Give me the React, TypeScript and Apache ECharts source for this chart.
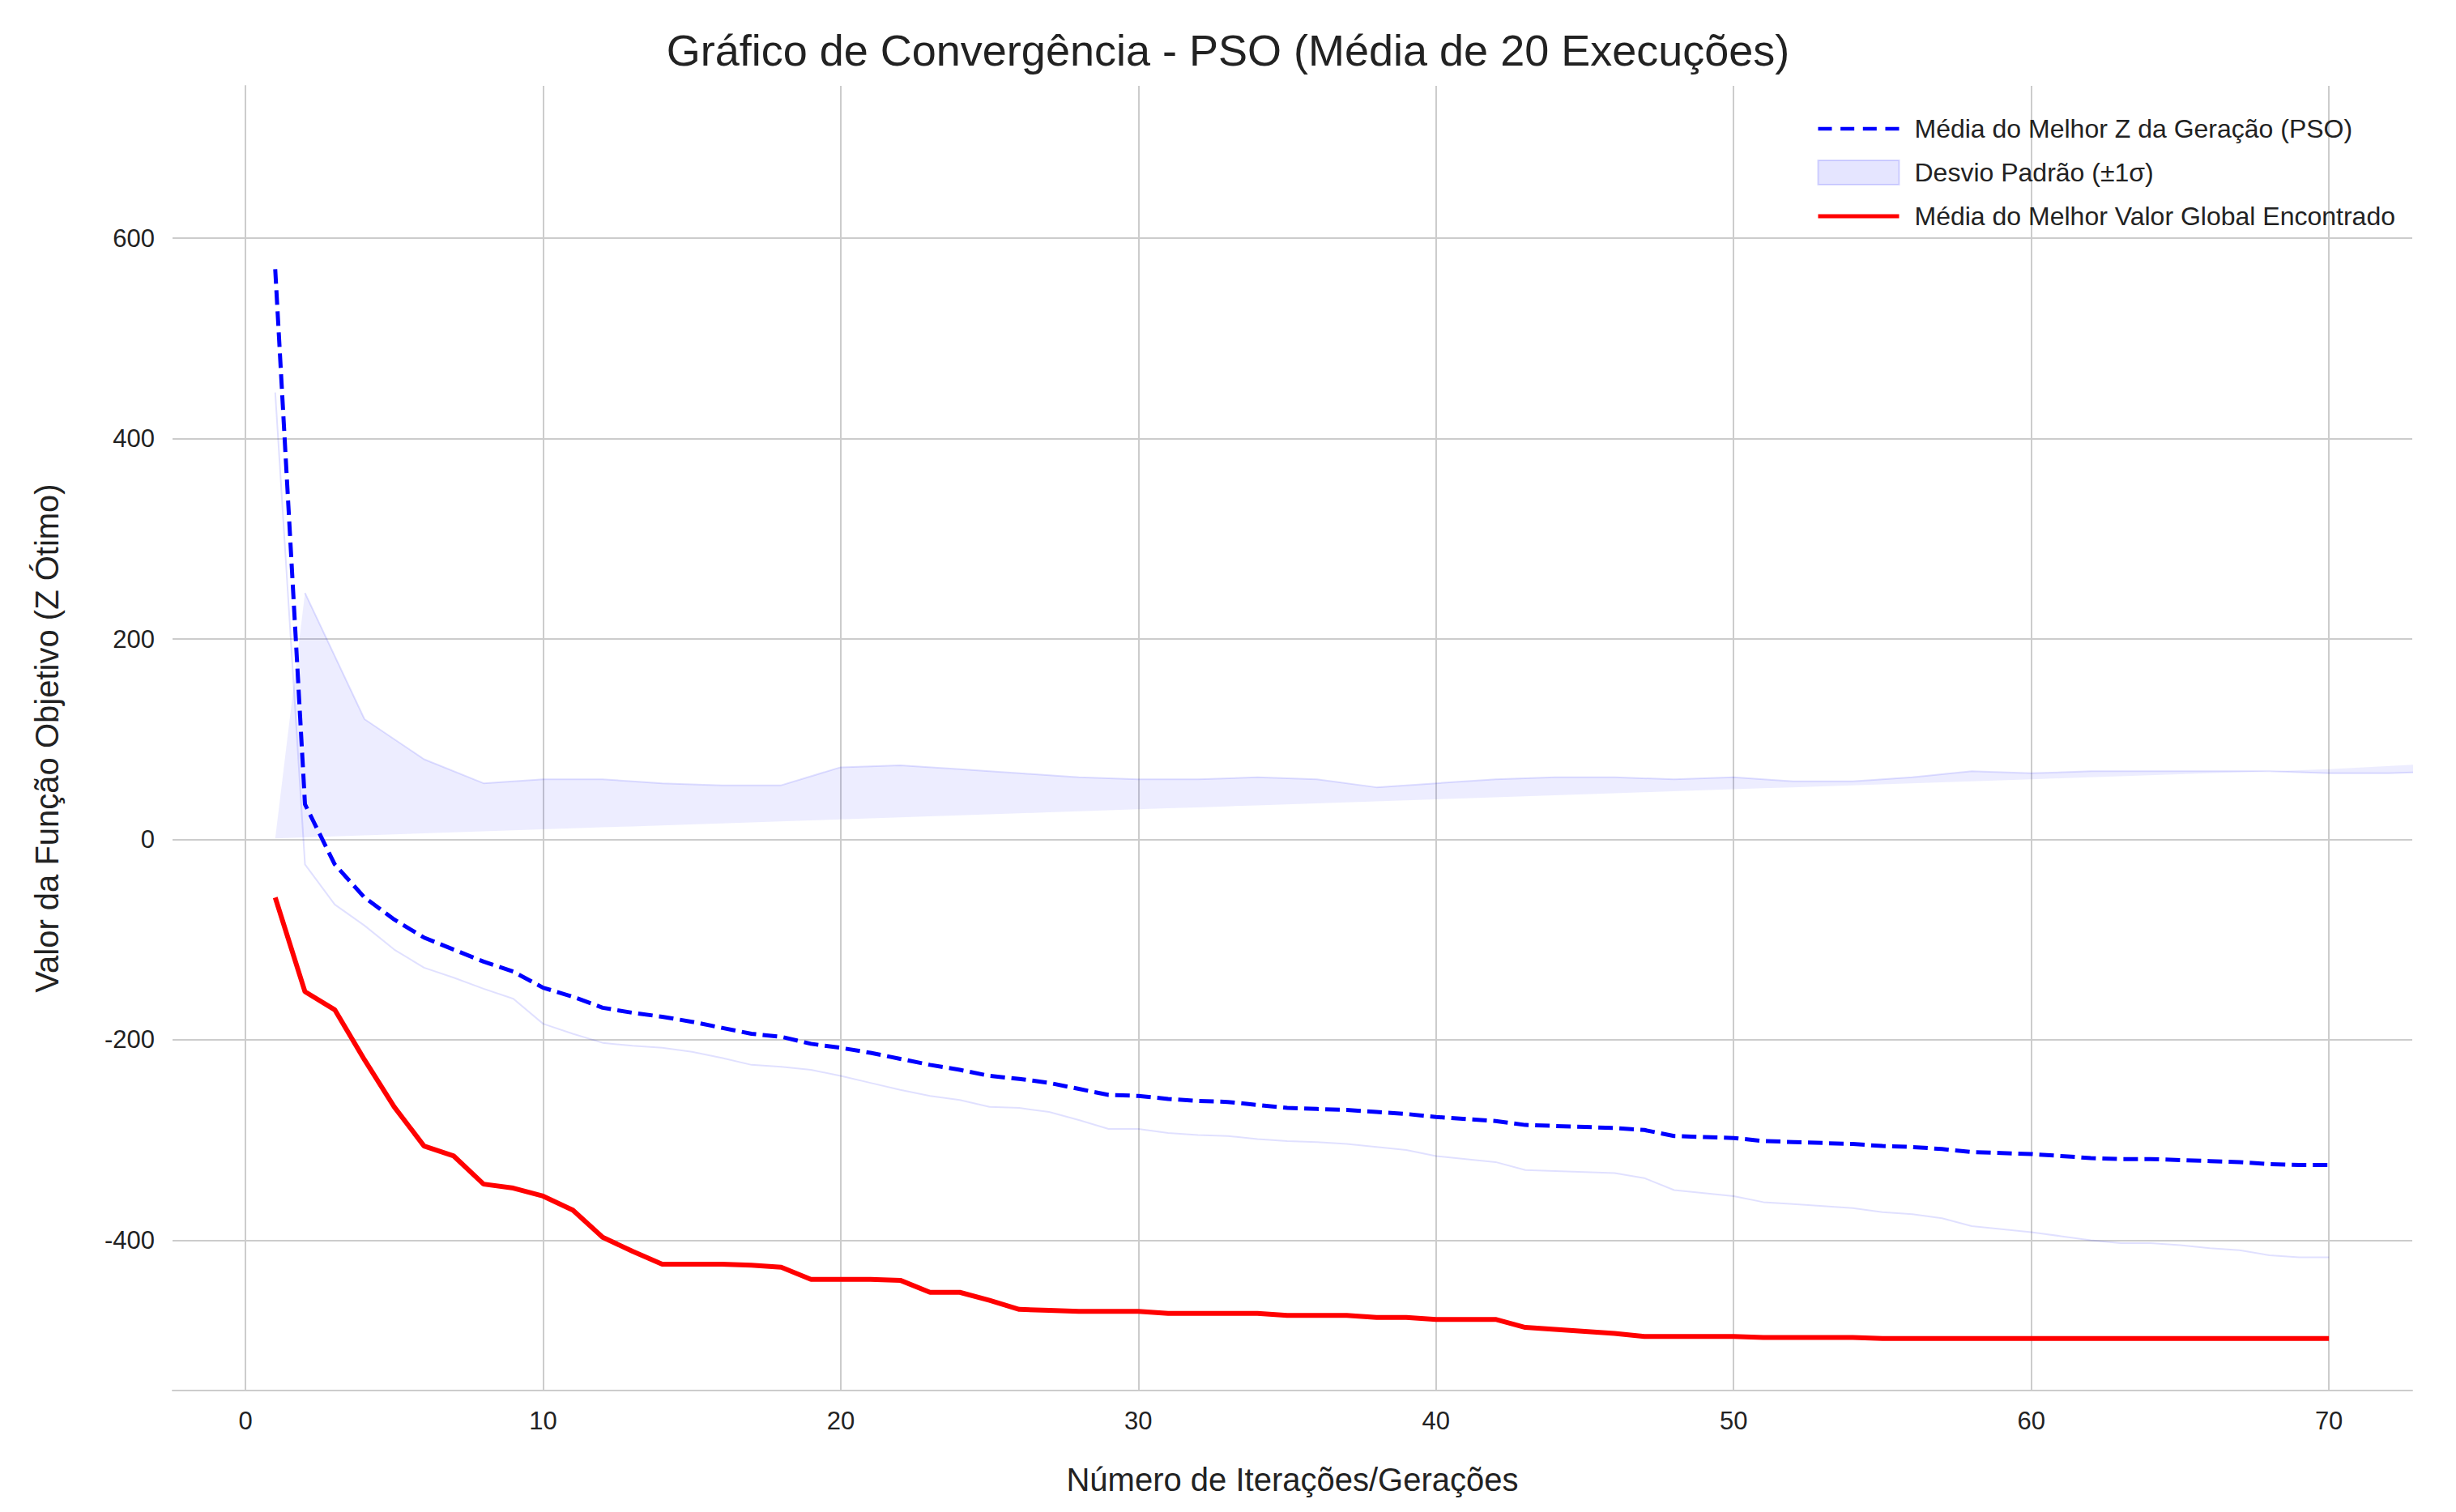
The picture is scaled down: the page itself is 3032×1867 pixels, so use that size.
import React, { useEffect, useRef } from 'react';
import * as echarts from 'echarts';

const iterations = Array.from({ length: 70 }, (_, i) => i + 1);

const meanGen = [
  569, 35, -25, -58, -80, -98, -110, -122, -132, -148,
  -157, -168, -173, -177, -182, -188, -194, -197, -204, -208,
  -213, -219, -225, -230, -236, -239, -243, -249, -255, -256,
  -259, -261, -262, -265, -268, -269, -270, -272, -274, -277,
  -279, -281, -285, -286, -287, -288, -290, -296, -297, -298,
  -301, -302, -303, -304, -306, -307, -309, -312, -313, -314,
  -316, -318, -319, -319, -320, -321, -322, -324, -325, -325,
];

const stdGen = [
  123, 60, 40, 28, 30, 30, 28, 27, 27, 36,
  37, 35, 33, 31, 30, 30, 31, 30, 26, 28,
  30, 31, 31, 30, 31, 29, 29, 31, 34, 33,
  34, 34, 34, 34, 33, 33, 34, 35, 36, 39,
  40, 41, 45, 45, 45, 45, 48, 54, 56, 58,
  61, 62, 63, 64, 66, 67, 69, 74, 76, 78,
  80, 82, 84, 84, 85, 87, 88, 91, 92, 92,
];

const bestGlobal = [
  -58, -152, -170, -220, -267, -306, -316, -344, -348, -356,
  -370, -397, -411, -424, -424, -424, -425, -427, -439, -439,
  -439, -440, -452, -452, -460, -469, -470, -471, -471, -471,
  -473, -473, -473, -473, -475, -475, -475, -477, -477, -479,
  -479, -479, -487, -489, -491, -493, -496, -496, -496, -496,
  -497, -497, -497, -497, -498, -498, -498, -498, -498, -498,
  -498, -498, -498, -498, -498, -498, -498, -498, -498, -498,
];

const xTicks = [0, 10, 20, 30, 40, 50, 60, 70];
const yTicks = [-400, -200, 0, 200, 400, 600];

const FONT = 'Liberation Sans, Arial, sans-serif';

const App: React.FC = () => {
  const chartRef = useRef<HTMLDivElement>(null);

  useEffect(() => {
    if (!chartRef.current) return;
    const chart = echarts.init(chartRef.current, null, { renderer: 'svg' });

    const lower = iterations.map((x, i) => [x, meanGen[i] - stdGen[i]]);
    const width = iterations.map((x, i) => [x, 2 * stdGen[i]]);

    const grid = { color: '#cccccc', width: 2 };

    const option = {
      animation: false,
      title: {
        text: 'Gráfico de Convergência - PSO (Média de 20 Execuções)',
        left: 'center',
        top: 22,
        textStyle: { fontFamily: FONT, fontSize: 54, fontWeight: 'normal', color: '#222' },
      },
      legend: {
        top: 130,
        right: 62,
        orient: 'vertical',
        itemGap: 22,
        itemWidth: 100,
        itemHeight: 30,
        textStyle: { fontFamily: FONT, fontSize: 32, color: '#222', padding: [0, 0, 0, 14] },
        data: [
          { name: 'Média do Melhor Z da Geração (PSO)', icon: 'path://M0,13h16v4h-16zM26,13h16v4h-16zM52,13h16v4h-16zM78,13h16v4h-16z', itemStyle: { color: '#0000ff' } },
          { name: 'Desvio Padrão (±1σ)', icon: 'rect', itemStyle: { color: 'rgba(0,0,255,0.1)', borderColor: 'rgba(0,0,255,0.15)', borderWidth: 2 } },
          { name: 'Média do Melhor Valor Global Encontrado', icon: 'path://M0,13h100v5h-100z', itemStyle: { color: '#ff0000' } },
        ],
      },
      grid: { left: 205, right: 46, top: 98, bottom: 142, containLabel: false },
      xAxis: {
        type: 'value',
        min: -2.45,
        max: 72.8,
        name: 'Número de Iterações/Gerações',
        nameLocation: 'middle',
        nameGap: 90,
        nameTextStyle: { fontFamily: FONT, fontSize: 40, color: '#222' },
        axisLine: { show: true, onZero: false, lineStyle: grid },
        axisTick: { show: false, customValues: xTicks },
        axisLabel: { fontFamily: FONT, fontSize: 31, color: '#222', margin: 22, customValues: xTicks },
        splitLine: { show: true, lineStyle: grid },
      },
      yAxis: {
        type: 'value',
        min: -550,
        max: 752,
        name: 'Valor da Função Objetivo (Z Ótimo)',
        nameLocation: 'middle',
        nameGap: 135,
        nameTextStyle: { fontFamily: FONT, fontSize: 40, color: '#222' },
        axisLine: { show: true, lineStyle: grid },
        axisTick: { show: false, customValues: yTicks },
        axisLabel: { fontFamily: FONT, fontSize: 31, color: '#222', margin: 22, customValues: yTicks },
        splitLine: { show: true, lineStyle: grid },
      },
      series: [
        {
          name: 'lower',
          type: 'line',
          data: lower,
          stack: 'band',
          stackStrategy: 'all',
          symbol: 'none',
          lineStyle: { color: 'rgba(0,0,255,0.12)', width: 2 },
          silent: true,
        },
        {
          name: 'Desvio Padrão (±1σ)',
          type: 'line',
          data: width,
          stack: 'band',
          stackStrategy: 'all',
          symbol: 'none',
          lineStyle: { color: 'rgba(0,0,255,0.12)', width: 2 },
          areaStyle: { color: 'rgba(0,0,255,0.1)' },
          itemStyle: { color: 'rgba(0,0,255,0.1)' },
        },
        {
          name: 'Média do Melhor Z da Geração (PSO)',
          type: 'line',
          data: iterations.map((x, i) => [x, meanGen[i]]),
          symbol: 'none',
          lineStyle: { color: '#0000ff', width: 5, type: [18, 8] },
          itemStyle: { color: '#0000ff' },
        },
        {
          name: 'Média do Melhor Valor Global Encontrado',
          type: 'line',
          data: iterations.map((x, i) => [x, bestGlobal[i]]),
          symbol: 'none',
          lineStyle: { color: '#ff0000', width: 6 },
          itemStyle: { color: '#ff0000' },
        },
      ],
    };

    chart.setOption(option);
    const onResize = () => chart.resize();
    window.addEventListener('resize', onResize);
    return () => {
      window.removeEventListener('resize', onResize);
      chart.dispose();
    };
  }, []);

  return <div ref={chartRef} style={{ width: '3016px', height: '1851px' }} />;
};

export default App;
